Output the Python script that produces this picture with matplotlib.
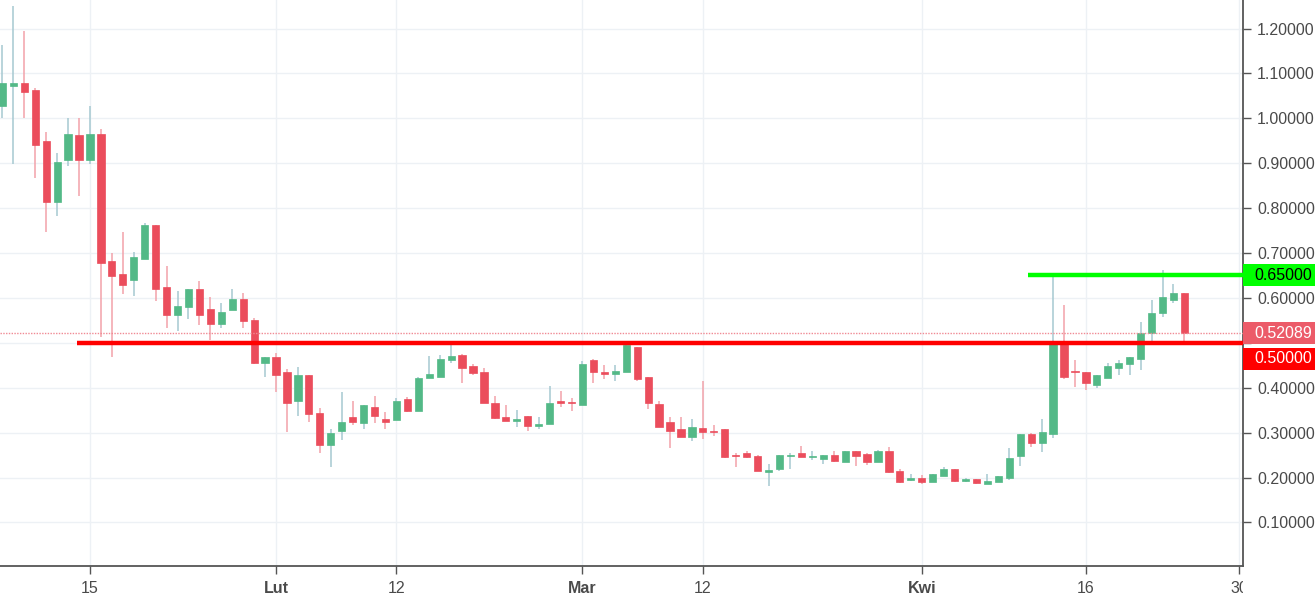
import matplotlib
matplotlib.use("Agg")
import matplotlib.pyplot as plt
import matplotlib.dates as mdates
from matplotlib.patches import Rectangle
from matplotlib.transforms import blended_transform_factory, Bbox, TransformedBbox
import pandas as pd

plt.rcParams['font.family'] = ['Liberation Sans', 'DejaVu Sans']

# ---------------- data ----------------
start_date = "2018-01-07"
opens = [1.027, 1.072, 1.079, 1.064, 0.950, 0.813, 0.907, 0.963, 0.907, 0.966,
         0.682, 0.653, 0.640, 0.687, 0.762, 0.625, 0.563, 0.580, 0.621, 0.575,
         0.543, 0.573, 0.598, 0.551, 0.456, 0.468, 0.434, 0.371, 0.428, 0.344,
         0.272, 0.304, 0.334, 0.321, 0.358, 0.330, 0.328, 0.375, 0.349, 0.421,
         0.423, 0.462, 0.473, 0.449, 0.436, 0.367, 0.334, 0.325, 0.337, 0.315,
         0.319, 0.371, 0.369, 0.361, 0.462, 0.436, 0.430, 0.436, 0.491, 0.425,
         0.364, 0.324, 0.307, 0.291, 0.311, 0.304, 0.309, 0.250, 0.254, 0.248,
         0.213, 0.220, 0.248, 0.254, 0.245, 0.241, 0.250, 0.234, 0.258, 0.252,
         0.234, 0.258, 0.215, 0.194, 0.200, 0.191, 0.204, 0.220, 0.193, 0.197,
         0.185, 0.191, 0.200, 0.248, 0.298, 0.277, 0.298, 0.503, 0.438, 0.434,
         0.405, 0.422, 0.445, 0.452, 0.465, 0.521, 0.567, 0.595, 0.611]
highs = [1.164, 1.251, 1.194, 1.068, 0.970, 0.923, 1.000, 1.000, 1.027, 0.977,
         0.699, 0.746, 0.703, 0.766, 0.762, 0.670, 0.615, 0.621, 0.638, 0.603,
         0.588, 0.619, 0.610, 0.555, 0.469, 0.477, 0.442, 0.447, 0.428, 0.354,
         0.309, 0.391, 0.370, 0.361, 0.381, 0.347, 0.378, 0.380, 0.423, 0.471,
         0.473, 0.499, 0.476, 0.452, 0.443, 0.381, 0.361, 0.350, 0.337, 0.334,
         0.404, 0.393, 0.378, 0.460, 0.464, 0.451, 0.451, 0.499, 0.491, 0.425,
         0.370, 0.334, 0.334, 0.330, 0.415, 0.317, 0.309, 0.254, 0.260, 0.250,
         0.230, 0.250, 0.254, 0.270, 0.260, 0.250, 0.260, 0.260, 0.258, 0.255,
         0.261, 0.267, 0.220, 0.209, 0.206, 0.207, 0.224, 0.220, 0.200, 0.197,
         0.209, 0.203, 0.266, 0.298, 0.300, 0.330, 0.654, 0.585, 0.462, 0.436,
         0.428, 0.454, 0.462, 0.469, 0.546, 0.595, 0.662, 0.631, 0.611]
lows = [1.001, 0.899, 1.001, 0.868, 0.747, 0.783, 0.894, 0.827, 0.899, 0.514,
        0.469, 0.609, 0.605, 0.687, 0.593, 0.532, 0.526, 0.553, 0.539, 0.506,
        0.532, 0.573, 0.532, 0.453, 0.424, 0.391, 0.302, 0.336, 0.324, 0.254,
        0.224, 0.283, 0.317, 0.307, 0.321, 0.308, 0.328, 0.345, 0.349, 0.421,
        0.423, 0.454, 0.411, 0.428, 0.365, 0.330, 0.325, 0.312, 0.304, 0.308,
        0.319, 0.356, 0.349, 0.361, 0.410, 0.419, 0.416, 0.436, 0.416, 0.352,
        0.312, 0.265, 0.291, 0.282, 0.285, 0.292, 0.243, 0.223, 0.243, 0.214,
        0.181, 0.215, 0.220, 0.245, 0.240, 0.231, 0.234, 0.234, 0.225, 0.228,
        0.234, 0.211, 0.187, 0.193, 0.185, 0.191, 0.204, 0.191, 0.191, 0.186,
        0.185, 0.191, 0.194, 0.225, 0.268, 0.257, 0.287, 0.419, 0.402, 0.395,
        0.399, 0.422, 0.428, 0.428, 0.439, 0.497, 0.558, 0.589, 0.503]
closes = [1.079, 1.079, 1.058, 0.941, 0.813, 0.903, 0.966, 0.907, 0.966, 0.677,
          0.649, 0.629, 0.692, 0.762, 0.619, 0.563, 0.582, 0.621, 0.563, 0.543,
          0.568, 0.598, 0.549, 0.454, 0.468, 0.428, 0.367, 0.428, 0.341, 0.272,
          0.300, 0.323, 0.323, 0.361, 0.338, 0.324, 0.370, 0.348, 0.421, 0.430,
          0.465, 0.471, 0.445, 0.432, 0.365, 0.332, 0.325, 0.330, 0.315, 0.320,
          0.367, 0.367, 0.365, 0.452, 0.436, 0.430, 0.438, 0.495, 0.419, 0.365,
          0.312, 0.304, 0.291, 0.313, 0.302, 0.301, 0.245, 0.248, 0.245, 0.214,
          0.217, 0.250, 0.250, 0.245, 0.248, 0.250, 0.237, 0.258, 0.249, 0.234,
          0.258, 0.213, 0.191, 0.200, 0.191, 0.207, 0.220, 0.193, 0.197, 0.187,
          0.193, 0.203, 0.243, 0.298, 0.277, 0.301, 0.501, 0.425, 0.434, 0.411,
          0.428, 0.448, 0.454, 0.468, 0.521, 0.566, 0.601, 0.611, 0.52089]

tick_dates = ["2018-01-15", "2018-02-01", "2018-02-12", "2018-03-01",
              "2018-03-12", "2018-04-01", "2018-04-16", "2018-04-30"]
tick_labels = ["15", "Lut", "12", "Mar", "12", "Kwi", "16", "30"]
y_ticks = [0.1, 0.2, 0.3, 0.4, 0.5, 0.6, 0.7, 0.8, 0.9, 1.0, 1.1, 1.2]

support_level = 0.50
resistance_level = 0.65
support_start = "2018-01-13 19:30"
resistance_start = "2018-04-10 17:00"

# ---------------- styling ----------------
UP = "#53b987"
DOWN = "#eb4d5c"
UP_WICK = "#a6c9d1"
DOWN_WICK = "#f2a2aa"
GRID = "#edf1f5"
AXC = "#555555"
TXT = "#4a4a4a"

W, H, DPI = 1315, 596, 100
fig = plt.figure(figsize=(W / DPI, H / DPI), dpi=DPI)
ax_left, ax_right, ax_top, ax_bottom = 0, 1243, 0, 566
ax = fig.add_axes([ax_left / W, (H - ax_bottom) / H,
                   (ax_right - ax_left) / W, (ax_bottom - ax_top) / H])

dates = pd.date_range(start_date, periods=len(opens), freq="D")
x = mdates.date2num(dates.to_pydatetime())

ax.set_xlim(mdates.date2num(pd.Timestamp("2018-01-06 18:40")),
            mdates.date2num(pd.Timestamp("2018-04-30 08:30")))
ax.set_ylim(0.003, 1.2635)

px_per_unit = (ax_bottom - ax_top) / (1.2635 - 0.003)
min_body = 1.2 / px_per_unit

for xi, o, h, l, c in zip(x, opens, highs, lows, closes):
    up = c >= o
    ax.vlines(xi, l, h, color=UP_WICK if up else DOWN_WICK, lw=1.1, zorder=2)
    bot = min(o, c)
    hgt = max(abs(c - o), min_body)
    ax.bar(xi, hgt, bottom=bot, width=0.66, color=UP if up else DOWN,
           edgecolor=UP if up else DOWN, lw=0.5, zorder=3)

# grid and ticks
ax.set_yticks(y_ticks)
# the 0.50000 axis label is hidden behind the level/price boxes
ax.set_yticklabels(["" if abs(v - support_level) < 1e-9 else f"{v:.5f}"
                    for v in y_ticks])
tick_x = mdates.date2num(pd.to_datetime(tick_dates).to_pydatetime())
ax.set_xticks(tick_x)
ax.set_xticklabels(tick_labels)
ax.grid(True, color=GRID, lw=1.0, zorder=0)
ax.set_axisbelow(True)

ax.yaxis.tick_right()
ax.tick_params(axis="y", right=True, left=False, length=6, width=1, color=AXC,
               labelsize=11.5, labelcolor=TXT, pad=4)
ax.tick_params(axis="x", length=6, width=1, color=AXC, labelsize=11.5,
               labelcolor=TXT, pad=5)
for lbl in ax.get_xticklabels():
    if lbl.get_text() in ("Lut", "Mar", "Kwi"):
        lbl.set_fontweight("bold")
    lbl.set_clip_on(True)
    lbl.set_clip_box(TransformedBbox(Bbox([[0, -1], [1, 1]]), ax.transAxes))

for s in ("top", "left"):
    ax.spines[s].set_visible(False)
for s in ("right", "bottom"):
    ax.spines[s].set_color(AXC)
    ax.spines[s].set_linewidth(1.3)

# level lines
xmax = ax.get_xlim()[1]
ax.hlines(support_level, mdates.date2num(pd.Timestamp(support_start)), xmax,
          color="#ff0000", lw=3.2, zorder=5)
ax.hlines(resistance_level, mdates.date2num(pd.Timestamp(resistance_start)), xmax,
          color="#00ff00", lw=3.2, zorder=5)
ax.axhline(closes[-1], color="#f08a94", lw=1.0, ls=(0, (1, 1)), zorder=4)

# price labels on the right axis
bt = blended_transform_factory(ax.transAxes, ax.transData)
right_edge = W / (ax_right - ax_left)


def price_label(level, text, fc, tc, dy_px=0):
    yc = level - dy_px / px_per_unit
    hh = 22 / px_per_unit
    ax.add_patch(Rectangle((1.0, yc - hh / 2), right_edge - 1.0, hh,
                           transform=bt, facecolor=fc, edgecolor="none",
                           clip_on=False, zorder=10))
    ax.text(1.0 + 11 / (ax_right - ax_left), yc, text, transform=bt,
            color=tc, fontsize=11.5, va="center", ha="left",
            clip_on=False, zorder=11)


price_label(resistance_level, f"{resistance_level:.5f}", "#00ff00", "#000000")
price_label(closes[-1], f"{closes[-1]:.5f}", "#ec5b69", "#ffffff")
price_label(support_level, f"{support_level:.5f}", "#ff0000", "#ffffff", dy_px=16)

fig.savefig("out.png", dpi=DPI, facecolor="white")
